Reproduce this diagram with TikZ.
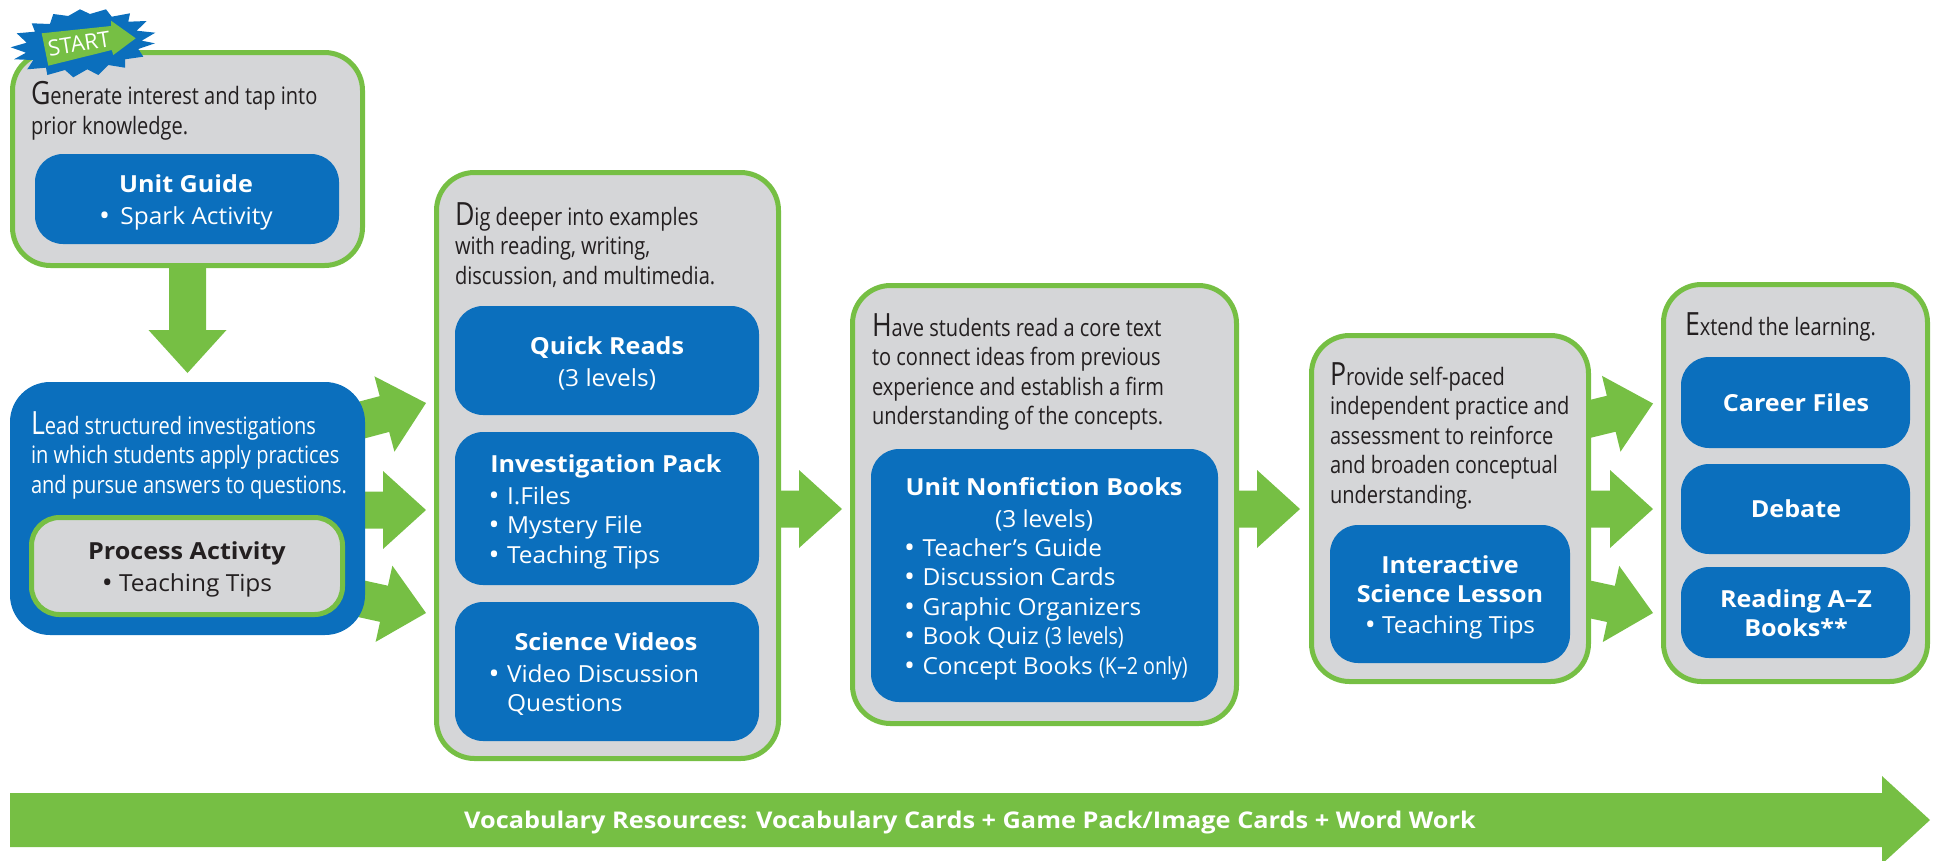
\documentclass[tikz,border=0pt]{standalone}
\usepackage{fontspec}
\usetikzlibrary{calc,backgrounds}
\setmainfont{Open Sans}
\newfontfamily\bodyf[FakeStretch=.835]{Open Sans}
\newfontfamily\labelf[FakeStretch=1.04]{Open Sans}
\newfontfamily\headf[FakeStretch=1.07]{Open Sans}
\newfontfamily\bannerf[FakeStretch=1.10]{Open Sans}
\definecolor{lgreen}{HTML}{76BF44}
\definecolor{lblue}{HTML}{0B6FBD}
\definecolor{lgray}{HTML}{D5D6D8}
\definecolor{ink}{HTML}{231F20}
\tikzset{
  every node/.style={inner sep=0pt,outer sep=0pt},
  panel/.style={draw=lgreen,line width=5pt,fill=lgray,rounded corners=38pt},
  bluebox/.style={fill=lblue,rounded corners=28pt},
  bluepanel/.style={fill=lblue,rounded corners=40pt},
  graybox/.style={draw=lgreen,line width=5pt,fill=lgray,rounded corners=28pt},
  arrowfill/.style={fill=lgreen},
  bodytext/.style={anchor=north west,align=left,text=ink,font={\fontsize{24}{29.5}\bodyf}},
  bodywhite/.style={bodytext,text=white},
  headtext/.style={anchor=north,align=center,text=white,font={\fontsize{23.5}{29.5}\headf\bfseries}},
  headdark/.style={headtext,text=ink},
  itemtext/.style={anchor=north west,align=left,text=white,font={\fontsize{23.5}{29.5}\labelf}},
  centertext/.style={anchor=north,align=center,text=white,font={\fontsize{23.5}{29.5}\labelf}},
  centerdark/.style={centertext,text=ink},
}
% box by outer edges: style, name, x1, y1, x2, y2, stroke width
\newcommand\boxat[7]{\node[#1,minimum width={#5-#3-#7},minimum height={#6-#4-#7}] (#2) at ({(#3+#5)/2},{(#4+#6)/2}) {};}
% text by first baseline: style, name, x, baseline, content
\newcommand\textat[5]{\node[#1,yshift=30pt] (#2) at (#3,#4) {\rule{0pt}{30pt}#5};}
\newcommand\dc[1]{{\fontsize{32}{29.5}\selectfont #1}}
\newcommand\bigdot{\raisebox{-1pt}{\fontsize{28}{28}\selectfont •}}
\newcommand\bul{\makebox[18.5pt][l]{\bigdot}}
\newcommand\blockarrow[2]{%
  \coordinate (ta) at (#1);\coordinate (ti) at (#2);
  \coordinate (hb) at ($(ti)!43pt!(ta)$);
  \fill[arrowfill] ($(ta)!18.5pt!90:(ti)$) -- ($(hb)!18.5pt!90:(ti)$) -- ($(hb)!39pt!90:(ti)$) -- (ti)
    -- ($(hb)!39pt!-90:(ti)$) -- ($(hb)!18.5pt!-90:(ti)$) -- ($(ta)!18.5pt!-90:(ti)$) -- cycle;}
\begin{document}
\begin{tikzpicture}[x=1pt,y=-1pt]
\useasboundingbox (0,0) rectangle (1933,860);
% panel 1
\boxat{panel}{p1}{10}{50}{365}{268}{5}
\boxat{bluebox}{p1a}{35}{154}{339}{244}{0}
\textat{bodytext}{t1}{31}{104.5}{\dc{G}enerate interest and tap into\\prior knowledge.}
\textat{headtext}{t1a}{186}{192}{Unit Guide}
\textat{centertext}{t1b}{186}{224}{\bigdot{}\, Spark Activity}
% panel 2
\boxat{bluepanel}{p2}{10}{382}{365}{635}{0}
\boxat{graybox}{p2a}{29}{515}{345}{617}{5}
\textat{bodywhite}{t2}{31}{434}{\dc{L}ead structured investigations\\in which students apply practices\\and pursue answers to questions.}
\textat{headdark}{t2a}{187}{559}{Process Activity}
\textat{centerdark}{t2b}{187}{591}{\bigdot{} Teaching Tips}
% panel 3
\boxat{panel}{p3}{434}{170}{781}{761}{5}
\boxat{bluebox}{p3a}{455}{306}{759}{415}{0}
\boxat{bluebox}{p3b}{455}{432}{759}{585}{0}
\boxat{bluebox}{p3c}{455}{602}{759}{741}{0}
\textat{bodytext}{t3}{455}{225}{\dc{D}ig deeper into examples\\with reading, writing,\\discussion, and multimedia.}
\textat{headtext}{t3a}{607}{354}{Quick Reads}
\textat{centertext}{t3b}{607}{386}{(3 levels)}
\textat{headtext}{t3c}{606}{472}{Investigation Pack}
\textat{itemtext}{t3d}{488.5}{504}{\bul I.Files\\\bul Mystery File\\\bul Teaching Tips}
\textat{headtext}{t3e}{606}{650}{Science Videos}
\textat{itemtext}{t3f}{488.5}{682}{\bul Video Discussion\\\hspace*{18.5pt}Questions}
% panel 4
\boxat{panel}{p4}{850}{283}{1239}{726}{5}
\boxat{bluebox}{p4a}{871}{449}{1218}{702}{0}
\textat{bodytext}{t4}{872}{336}{\dc{H}ave students read a core text\\to connect ideas from previous\\experience and establish a firm\\understanding of the concepts.}
\textat{headtext}{t4a}{1044}{495}{Unit Nonfiction Books}
\textat{centertext}{t4b}{1044}{527}{(3 levels)}
\textat{itemtext}{t4c}{904}{556}{\bul Teacher’s Guide\\\bul Discussion Cards\\\bul Graphic Organizers\\\bul Book Quiz {\bodyf (3 levels)}\\\bul Concept Books {\bodyf (K–2 only)}}
% panel 5
\boxat{panel}{p5}{1309}{333}{1591}{684}{5}
\boxat{bluebox}{p5a}{1330}{525}{1570}{663}{0}
\textat{bodytext}{t5}{1330}{385}{\dc{P}rovide self-paced\\independent practice and\\assessment to reinforce\\and broaden conceptual\\understanding.}
\textat{headtext}{t5a}{1450}{573}{Interactive\\Science Lesson}
\textat{centertext}{t5b}{1450}{633}{\bigdot{} Teaching Tips}
% panel 6
\boxat{panel}{p6}{1661}{282}{1930}{684}{5}
\boxat{bluebox}{p6a}{1681}{357}{1910}{448}{0}
\boxat{bluebox}{p6b}{1681}{464}{1910}{554}{0}
\boxat{bluebox}{p6c}{1681}{567}{1910}{658}{0}
\textat{bodytext}{t6}{1685}{335}{\dc{E}xtend the learning.}
\textat{headtext}{t6a}{1796}{411}{Career Files}
\textat{headtext}{t6b}{1796}{517.5}{Debate}
\textat{headtext}{t6c}{1796}{607}{Reading A–Z\\Books**}
% connectors, behind the panels
\begin{pgfonlayer}{background}
\blockarrow{p1.south}{$(p2.north)+(0,-9)$}
\blockarrow{$(p2.east)+(-5,-88)$}{$(p3.west)+(-10.5,-62.5)$}
\blockarrow{$(p2.east)+(-5,1.5)$}{$(p3.west)+(-10.5,44.5)$}
\blockarrow{$(p2.east)+(-5,90)$}{$(p3.west)+(-10.5,147.5)$}
\blockarrow{$(p3.east)+(-3,43.5)$}{$(p4.west)+(-10.5,4.5)$}
\blockarrow{$(p4.east)+(-3,4.5)$}{$(p5.west)+(-11.5,0.5)$}
\blockarrow{$(p5.east)+(-5,-88)$}{$(p6.west)+(-10.5,-79.5)$}
\blockarrow{$(p5.east)+(-5,0.5)$}{$(p6.west)+(-10.5,26)$}
\blockarrow{$(p5.east)+(-5,89.5)$}{$(p6.west)+(-10.5,130)$}
\end{pgfonlayer}
% banner arrow
\coordinate (v0) at (10,820);
\coordinate (v1) at (1930,820);
\fill[arrowfill] (v0|-0,793) -- (1882,793) -- (1882,776) -- (v1) -- (1882,864) -- (1882,847) -- (v0|-0,847) -- cycle;
\node[text=white,font={\fontsize{23}{28}\bannerf\bfseries},anchor=base] (vt) at (970,828) {Vocabulary Resources: Vocabulary Cards + Game Pack/Image Cards + Word Work};
% start burst
\fill[lblue] (10.7,47.3) -- (26.7,42.7) -- (16.7,33.3) -- (35,31.7) -- (31.7,23.3) -- (50,24) -- (53.3,14) -- (68.3,16) -- (80,9.3) -- (90,14) -- (106,9.3) -- (111.7,16.7) -- (130,13.3) -- (128.3,21.7) -- (146.7,21) -- (136.7,30.7) -- (155.3,32.7) -- (141.7,40.7) -- (155,43.3) -- (138.3,49) -- (143.3,56.7) -- (125,59.3) -- (125,67.7) -- (108.3,65) -- (98.3,75) -- (87.3,69.3) -- (73.3,77.3) -- (65,70) -- (47.3,75) -- (46,67.7) -- (27.3,69.3) -- (33.3,60) -- (14,59.3) -- (26,52.7) -- cycle;
\fill[lgreen] (41.7,33.3) -- (111,26) -- (111,20.7) -- (135.7,38.3) -- (113.3,55) -- (111.7,50) -- (48.3,65.7) -- cycle;
\node[text=white,rotate=9,font={\fontsize{22}{22}\selectfont}] (st) at (79,43.5) {START};
\end{tikzpicture}
\end{document}
